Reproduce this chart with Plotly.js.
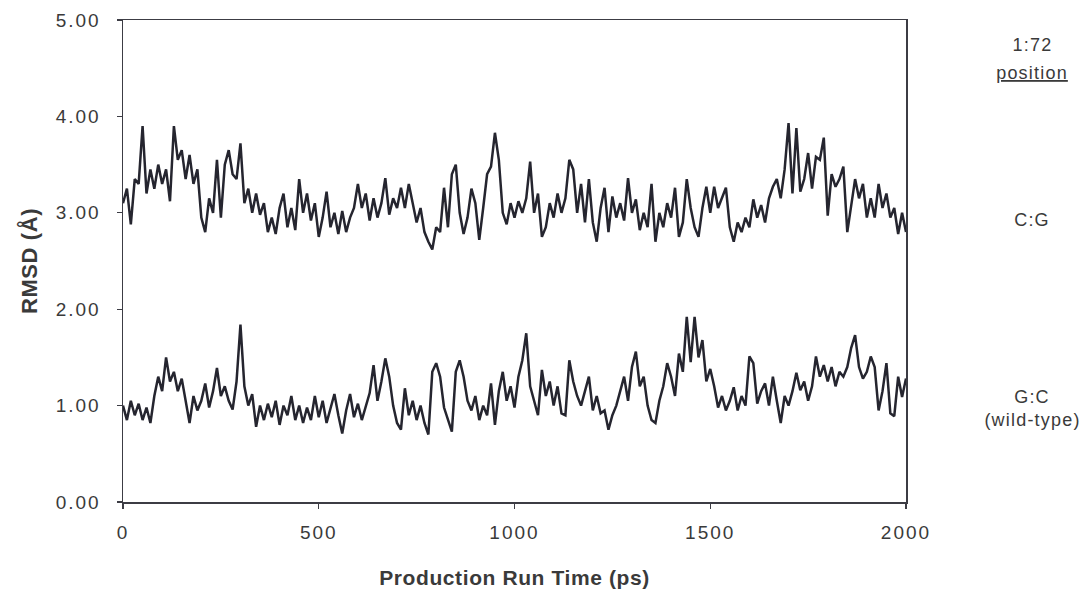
<!DOCTYPE html>
<html>
<head>
<meta charset="utf-8">
<script src="https://cdn.plot.ly/plotly-3.0.1.min.js"></script>
<style>
html,body{margin:0;padding:0;background:#fff;}
#chart{width:1086px;height:592px;}
#chart .xtick text, #chart .ytick text{letter-spacing:2px;}
#chart .xtitle, #chart .ytitle{letter-spacing:0.6px;}
#chart .annotation-text{letter-spacing:1.2px;}
</style>
</head>
<body>
<div id="chart"></div>
<script>
// Sampling step of the production run (ps)
const TIME_STEP = 10;

// RMSD (Å) of the C:G mutant, read every 10 ps from 0 to 2000 ps
const rmsdCG = [
  3.10, 3.25, 2.88, 3.35, 3.30, 3.90, 3.20, 3.45, 3.25, 3.50,
  3.30, 3.45, 3.12, 3.90, 3.55, 3.65, 3.35, 3.60, 3.30, 3.45,
  2.95, 2.80, 3.15, 3.00, 3.55, 2.95, 3.50, 3.65, 3.40, 3.35,
  3.72, 3.10, 3.25, 3.00, 3.20, 2.98, 3.10, 2.80, 2.95, 2.78,
  3.05, 3.20, 2.85, 3.05, 2.82, 3.35, 3.00, 3.20, 2.92, 3.10,
  2.75, 2.95, 3.22, 2.85, 3.00, 2.78, 3.02, 2.80, 2.95, 3.05,
  3.30, 3.05, 3.20, 2.92, 3.15, 2.95, 3.10, 3.36, 2.98, 3.15,
  3.05, 3.26, 3.05, 3.30, 3.10, 2.90, 3.05, 2.80, 2.70, 2.62,
  2.85, 2.80, 3.26, 2.85, 3.40, 3.50, 3.00, 2.78, 2.95, 3.25,
  3.10, 2.72, 3.05, 3.40, 3.48, 3.83, 3.55, 3.00, 2.88, 3.10,
  2.95, 3.12, 3.00, 3.15, 3.53, 3.00, 3.20, 2.75, 2.85, 3.10,
  2.95, 3.20, 3.00, 3.15, 3.55, 3.45, 3.00, 3.30, 2.90, 3.35,
  2.90, 2.70, 3.05, 3.26, 2.80, 3.17, 2.95, 3.10, 2.92, 3.36,
  3.00, 3.14, 2.82, 3.00, 2.85, 3.30, 2.70, 3.00, 2.85, 3.10,
  2.95, 3.26, 2.75, 2.90, 3.35, 3.05, 2.85, 2.75, 3.05, 3.27,
  3.00, 3.27, 3.05, 3.15, 3.26, 2.85, 2.70, 2.90, 2.80, 2.95,
  2.85, 3.14, 2.95, 3.08, 2.90, 3.15, 3.27, 3.35, 3.15, 3.45,
  3.93, 3.20, 3.88, 3.22, 3.35, 3.62, 3.25, 3.58, 3.55, 3.78,
  2.97, 3.40, 3.27, 3.35, 3.48, 2.80, 3.10, 3.35, 3.15, 3.30,
  2.95, 3.15, 2.95, 3.30, 3.05, 3.20, 2.95, 3.05, 2.78, 3.00,
  2.80
];

// RMSD (Å) of the G:C wild type, read every 10 ps from 0 to 2000 ps
const rmsdGC = [
  1.00, 0.85, 1.05, 0.90, 1.02, 0.85, 0.98, 0.82, 1.10, 1.30,
  1.15, 1.50, 1.25, 1.35, 1.15, 1.28, 1.05, 0.82, 1.10, 0.95,
  1.05, 1.23, 0.98, 1.15, 1.39, 1.10, 1.20, 1.05, 0.96, 1.25,
  1.84, 1.20, 1.00, 1.12, 0.78, 1.00, 0.85, 1.02, 0.88, 1.05,
  0.80, 1.00, 0.90, 1.10, 0.85, 1.00, 0.82, 0.98, 0.85, 1.10,
  0.88, 1.05, 0.82, 0.98, 1.12, 0.90, 0.71, 0.95, 1.12, 0.88,
  1.02, 0.85, 0.98, 1.13, 1.42, 1.05, 1.25, 1.49, 1.30, 1.00,
  0.82, 0.75, 1.18, 0.90, 1.05, 0.85, 1.00, 0.82, 0.70, 1.35,
  1.44, 1.30, 0.98, 0.85, 0.73, 1.35, 1.47, 1.30, 1.05, 0.95,
  1.10, 0.85, 1.00, 0.90, 1.23, 0.80, 1.15, 1.35, 1.05, 1.20,
  0.98, 1.30, 1.47, 1.75, 1.20, 1.05, 0.90, 1.37, 1.10, 1.25,
  1.00, 1.20, 0.92, 0.90, 1.47, 1.25, 1.10, 1.00, 1.15, 1.30,
  0.95, 1.10, 0.92, 0.95, 0.75, 0.90, 1.00, 1.15, 1.30, 1.05,
  1.40, 1.56, 1.20, 1.30, 1.00, 0.85, 0.82, 1.05, 1.20, 1.44,
  1.30, 1.10, 1.54, 1.35, 1.92, 1.45, 1.92, 1.50, 1.68, 1.25,
  1.38, 1.20, 0.98, 1.10, 0.95, 1.05, 1.19, 0.95, 1.10, 1.00,
  1.51, 1.44, 1.02, 1.15, 1.23, 1.00, 1.30, 1.05, 0.82, 1.10,
  1.00, 1.15, 1.34, 1.16, 1.25, 1.05, 1.20, 1.51, 1.30, 1.42,
  1.25, 1.40, 1.20, 1.35, 1.30, 1.40, 1.60, 1.73, 1.40, 1.28,
  1.35, 1.51, 1.40, 0.95, 1.15, 1.44, 0.92, 0.89, 1.30, 1.09,
  1.28
];

// Axis tick values and labels
const xTickVals = [0, 500, 1000, 1500, 2000];
const xTickText = ["0", "500", "1000", "1500", "2000"];
const yTickVals = [0, 1, 2, 3, 4, 5];
const yTickText = ["0.00", "1.00", "2.00", "3.00", "4.00", "5.00"];

// Side labels (1:72 position)
const sideLabels = [
  {text: "1:72", y: 0.948},
  {text: "<u>position</u>", y: 0.890},
  {text: "C:G", y: 0.585},
  {text: "G:C", y: 0.218},
  {text: "(wild-type)", y: 0.170}
];

const timeCG = rmsdCG.map((_, i) => i * TIME_STEP);
const timeGC = rmsdGC.map((_, i) => i * TIME_STEP);

const lineColor = "#25252f";
const textColor = "#3a3a3a";
const axisColor = "#3c3c44";
const fontFam = "Liberation Sans, Arial, sans-serif";

const traces = [
  {x: timeCG, y: rmsdCG, type: "scatter", mode: "lines", name: "C:G",
   line: {color: lineColor, width: 2.5}, hoverinfo: "x+y"},
  {x: timeGC, y: rmsdGC, type: "scatter", mode: "lines", name: "G:C (wild-type)",
   line: {color: lineColor, width: 2.5}, hoverinfo: "x+y"}
];

const layout = {
  width: 1086, height: 592,
  margin: {l: 123, r: 180, t: 20, b: 90},
  paper_bgcolor: "#ffffff", plot_bgcolor: "#ffffff",
  showlegend: false,
  font: {family: fontFam, color: textColor, size: 16},
  xaxis: {
    range: [0, 2000], tickvals: xTickVals, ticktext: xTickText,
    showgrid: false, zeroline: false,
    showline: true, linecolor: axisColor, linewidth: 1.5, mirror: true,
    ticks: "outside", ticklen: 5, tickcolor: axisColor, tickwidth: 1.2,
    ticklabelstandoff: 8,
    tickfont: {size: 19, color: textColor, family: fontFam},
    title: {text: "<b>Production Run Time (ps)</b>", font: {size: 21, color: textColor, family: fontFam}, standoff: 28}
  },
  yaxis: {
    range: [0, 5], tickvals: yTickVals, ticktext: yTickText,
    showgrid: false, zeroline: false,
    showline: true, linecolor: axisColor, linewidth: 1.5, mirror: true,
    ticks: "outside", ticklen: 5, tickcolor: axisColor, tickwidth: 1.2,
    ticklabelstandoff: 12,
    tickfont: {size: 19, color: textColor, family: fontFam},
    title: {text: "<b>RMSD (Å)</b>", font: {size: 22, color: textColor, family: fontFam}, standoff: 20}
  },
  annotations: sideLabels.map(s => ({
    text: s.text, xref: "paper", yref: "paper", x: 1.161, y: s.y,
    xanchor: "center", yanchor: "middle", showarrow: false,
    font: {size: 18, color: textColor, family: fontFam}
  }))
};

Plotly.newPlot("chart", traces, layout, {displayModeBar: false, staticPlot: true});
</script>
</body>
</html>
